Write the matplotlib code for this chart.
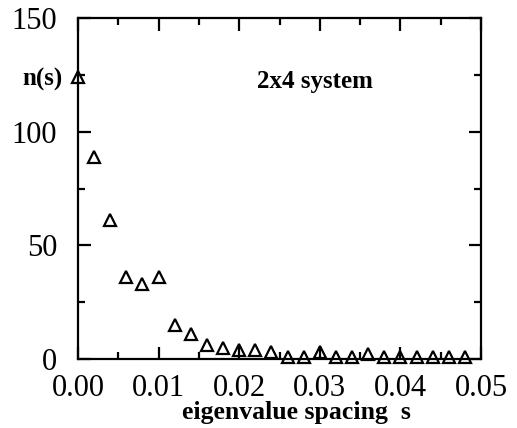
import matplotlib.pyplot as plt
import numpy as np
from matplotlib.ticker import MultipleLocator

# level spacing histogram, 2x4 system
spacing = [0.000, 0.002, 0.004, 0.006, 0.008, 0.010, 0.012, 0.014, 0.016, 0.018,
           0.020, 0.022, 0.024, 0.026, 0.028, 0.030, 0.032, 0.034, 0.036, 0.038,
           0.040, 0.042, 0.044, 0.046, 0.048]
counts = [124, 89, 61, 36, 33, 36, 15, 11, 6, 5,
          4, 4, 3, 1, 1, 3, 1, 1, 2, 1,
          1, 1, 1, 1, 1]

plt.rcParams["font.family"] = ["Liberation Serif", "DejaVu Serif"]

fig = plt.figure(figsize=(5.17, 4.28), dpi=100)
ax = fig.add_axes([78 / 517, 1 - 359 / 428, 403 / 517, 341 / 428])

ax.plot(spacing, counts, linestyle="none", marker="^", markersize=9,
        markerfacecolor="none", markeredgecolor="black", markeredgewidth=1.6,
        clip_on=False, zorder=3)

ax.set_xlim(0, 0.05)
ax.set_ylim(0, 150)
ax.xaxis.set_major_locator(MultipleLocator(0.01))
ax.xaxis.set_minor_locator(MultipleLocator(0.005))
ax.yaxis.set_major_locator(MultipleLocator(50))
ax.yaxis.set_minor_locator(MultipleLocator(25))
ax.xaxis.set_major_formatter(lambda v, p: f"{v:.2f}")

for s in ax.spines.values():
    s.set_linewidth(1.6)
ax.tick_params(which="both", direction="in", top=True, right=True, width=1.6,
               labelsize=22)
ax.tick_params(which="major", length=9)
ax.tick_params(which="minor", length=5)
ax.tick_params(axis="x", pad=11)
ax.tick_params(axis="y", pad=15)

ax.text(-0.0019, 123, "n(s)", fontsize=18, fontweight="bold", ha="right",
        va="center", clip_on=False)
ax.text(0.0222, 122, "2x4 system", fontsize=18, fontweight="bold",
        ha="left", va="center")
ax.set_xlabel("eigenvalue spacing  s", fontsize=18.5, fontweight="bold",
              labelpad=-2, x=0.542)

fig.savefig("out.png", dpi=100)
